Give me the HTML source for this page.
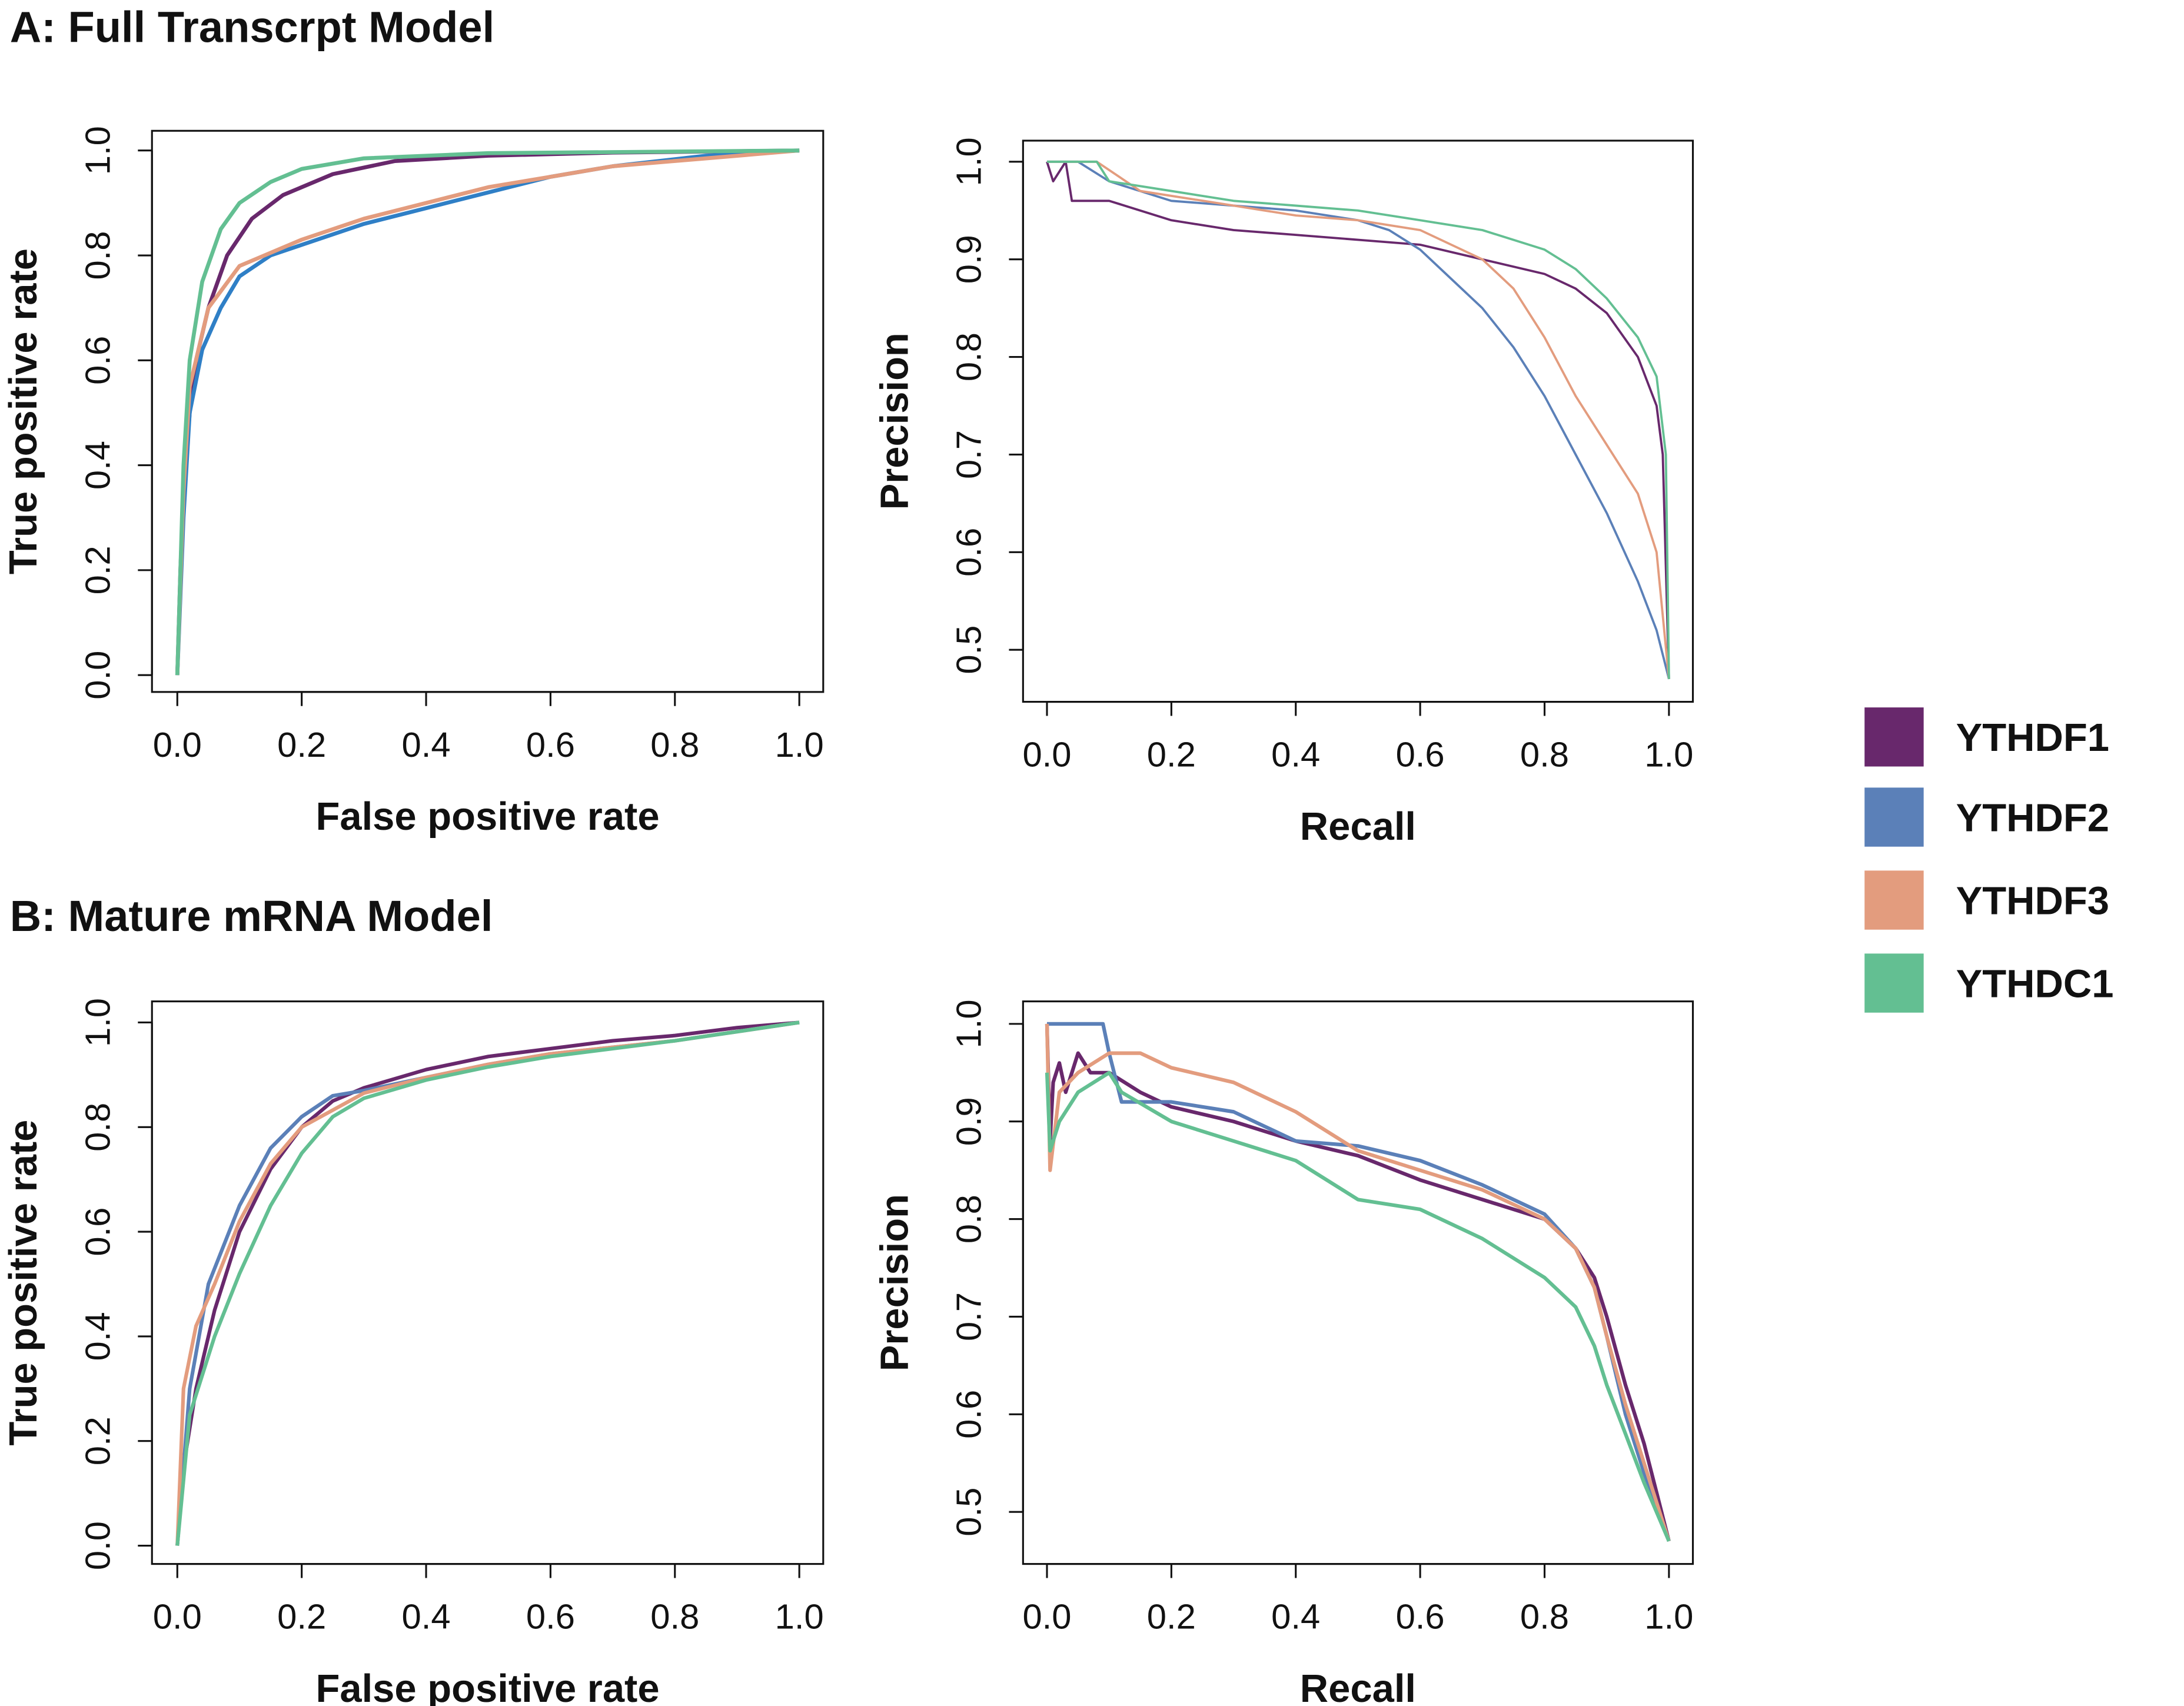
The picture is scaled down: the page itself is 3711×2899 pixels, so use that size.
<!DOCTYPE html>
<html><head><meta charset="utf-8"><style>
html,body{margin:0;padding:0;background:#fff}
svg{display:block}
text{font-family:"Liberation Sans",Arial,sans-serif;fill:#111}
</style></head><body>
<svg id="fig" width="3711" height="2899" viewBox="0 0 1552 1213" preserveAspectRatio="none" xmlns="http://www.w3.org/2000/svg">
<text x="7" y="30" font-size="31" font-weight="bold">A: Full Transcrpt Model</text>
<text x="7" y="662" font-size="31" font-weight="bold">B: Mature mRNA Model</text>
<g>
<rect x="1325" y="503" width="42" height="42" fill="#68286c"/>
<text x="1390" y="534" font-size="28" font-weight="bold">YTHDF1</text>
<rect x="1325" y="560" width="42" height="42" fill="#5b80b8"/>
<text x="1390" y="591" font-size="28" font-weight="bold">YTHDF2</text>
<rect x="1325" y="619" width="42" height="42" fill="#e39c7e"/>
<text x="1390" y="650" font-size="28" font-weight="bold">YTHDF3</text>
<rect x="1325" y="678" width="42" height="42" fill="#63bf92"/>
<text x="1390" y="709" font-size="28" font-weight="bold">YTHDC1</text>
</g>
</svg>
<script>
const seriesNames = ["YTHDF1","YTHDF2","YTHDF3","YTHDC1"];
const colors = ["#68286c","#5b80b8","#e39c7e","#63bf92"];
const colorsRocA = ["#68286c","#2f7fc6","#e39c7e","#63bf92"];
const rocTicks = [0,0.2,0.4,0.6,0.8,1.0];
const rocTickLabels = ["0.0","0.2","0.4","0.6","0.8","1.0"];
const prYTicks = [0.5,0.6,0.7,0.8,0.9,1.0];
const prYTickLabels = ["0.5","0.6","0.7","0.8","0.9","1.0"];

const rocA_DF1 = [[0,0],[0.005,0.2],[0.01,0.35],[0.02,0.5],[0.03,0.6],[0.05,0.7],[0.08,0.8],[0.12,0.87],[0.17,0.915],[0.25,0.955],[0.35,0.98],[0.5,0.99],[0.7,0.996],[1,1]];
const rocA_DF2 = [[0,0],[0.01,0.3],[0.02,0.5],[0.04,0.62],[0.07,0.7],[0.1,0.76],[0.15,0.8],[0.2,0.82],[0.3,0.86],[0.4,0.89],[0.5,0.92],[0.6,0.95],[0.7,0.97],[0.85,0.99],[1,1]];
const rocA_DF3 = [[0,0],[0.01,0.35],[0.02,0.55],[0.05,0.7],[0.1,0.78],[0.2,0.83],[0.3,0.87],[0.4,0.9],[0.5,0.93],[0.6,0.95],[0.7,0.97],[0.85,0.985],[1,1]];
const rocA_DC1 = [[0,0],[0.01,0.4],[0.02,0.6],[0.04,0.75],[0.07,0.85],[0.1,0.9],[0.15,0.94],[0.2,0.965],[0.3,0.985],[0.5,0.995],[1,1]];

const prA_DF1 = [[0,1],[0.01,0.98],[0.03,1],[0.04,0.96],[0.1,0.96],[0.2,0.94],[0.3,0.93],[0.4,0.925],[0.5,0.92],[0.6,0.915],[0.7,0.9],[0.8,0.885],[0.85,0.87],[0.9,0.845],[0.95,0.8],[0.98,0.75],[0.99,0.7],[1,0.47]];
const prA_DF2 = [[0,1],[0.05,1],[0.1,0.98],[0.2,0.96],[0.3,0.955],[0.4,0.95],[0.5,0.94],[0.55,0.93],[0.6,0.91],[0.65,0.88],[0.7,0.85],[0.75,0.81],[0.8,0.76],[0.85,0.7],[0.9,0.64],[0.95,0.57],[0.98,0.52],[1,0.47]];
const prA_DF3 = [[0,1],[0.08,1],[0.15,0.97],[0.3,0.955],[0.4,0.945],[0.5,0.94],[0.6,0.93],[0.7,0.9],[0.75,0.87],[0.8,0.82],[0.85,0.76],[0.9,0.71],[0.95,0.66],[0.98,0.6],[1,0.47]];
const prA_DC1 = [[0,1],[0.08,1],[0.1,0.98],[0.2,0.97],[0.3,0.96],[0.4,0.955],[0.5,0.95],[0.6,0.94],[0.7,0.93],[0.8,0.91],[0.85,0.89],[0.9,0.86],[0.95,0.82],[0.98,0.78],[0.995,0.7],[1,0.47]];

const rocB_DF1 = [[0,0],[0.01,0.15],[0.03,0.3],[0.06,0.45],[0.1,0.6],[0.15,0.72],[0.2,0.8],[0.25,0.85],[0.3,0.875],[0.4,0.91],[0.5,0.935],[0.6,0.95],[0.7,0.965],[0.8,0.975],[0.9,0.99],[1,1]];
const rocB_DF2 = [[0,0],[0.02,0.3],[0.05,0.5],[0.1,0.65],[0.15,0.76],[0.2,0.82],[0.25,0.86],[0.3,0.87],[0.4,0.895],[0.5,0.92],[0.6,0.94],[0.8,0.965],[1,1]];
const rocB_DF3 = [[0,0],[0.01,0.3],[0.03,0.42],[0.06,0.5],[0.1,0.62],[0.15,0.73],[0.2,0.8],[0.3,0.865],[0.4,0.895],[0.5,0.92],[0.6,0.94],[0.8,0.965],[1,1]];
const rocB_DC1 = [[0,0],[0.02,0.25],[0.06,0.4],[0.1,0.52],[0.15,0.65],[0.2,0.75],[0.25,0.82],[0.3,0.855],[0.4,0.89],[0.5,0.915],[0.6,0.935],[0.8,0.965],[1,1]];

const prB_DF1 = [[0,1],[0.005,0.88],[0.01,0.94],[0.02,0.96],[0.03,0.93],[0.05,0.97],[0.07,0.95],[0.1,0.95],[0.15,0.93],[0.2,0.915],[0.3,0.9],[0.4,0.88],[0.5,0.865],[0.6,0.84],[0.7,0.82],[0.8,0.8],[0.85,0.77],[0.88,0.74],[0.9,0.7],[0.93,0.63],[0.96,0.57],[0.98,0.52],[1,0.47]];
const prB_DF2 = [[0,1],[0.04,1],[0.09,1],[0.1,0.97],[0.12,0.92],[0.2,0.92],[0.3,0.91],[0.4,0.88],[0.5,0.875],[0.6,0.86],[0.7,0.835],[0.8,0.805],[0.85,0.77],[0.88,0.73],[0.9,0.68],[0.93,0.6],[0.96,0.54],[1,0.47]];
const prB_DF3 = [[0,1],[0.005,0.85],[0.02,0.93],[0.05,0.95],[0.1,0.97],[0.15,0.97],[0.2,0.955],[0.3,0.94],[0.4,0.91],[0.5,0.87],[0.6,0.85],[0.7,0.83],[0.8,0.8],[0.85,0.77],[0.88,0.73],[0.9,0.68],[0.93,0.61],[0.96,0.55],[1,0.47]];
const prB_DC1 = [[0,0.95],[0.005,0.87],[0.02,0.9],[0.05,0.93],[0.1,0.95],[0.12,0.93],[0.2,0.9],[0.3,0.88],[0.4,0.86],[0.5,0.82],[0.6,0.81],[0.7,0.78],[0.8,0.74],[0.85,0.71],[0.88,0.67],[0.9,0.63],[0.93,0.58],[0.96,0.53],[1,0.47]];

const NS="http://www.w3.org/2000/svg";
const svg=document.getElementById('fig');
function mk(tag,attrs,parent){const e=document.createElementNS(NS,tag);for(const k in attrs)e.setAttribute(k,attrs[k]);(parent||svg).appendChild(e);return e;}

function panel(name,box,xr,yr,yTicks,yLabels,xTitle,yTitle,series,cols,lw){
  const g=mk('g',{});
  
  
  const [L,T,R,B]=box, [px0,px1]=xr, [py0,py1,yv0,yv1]=yr;
  const sx=v=>px0+v*(px1-px0);
  const sy=v=>py0+(v-yv0)/(yv1-yv0)*(py1-py0);
  const frame=mk('rect',{x:L,y:T,width:R-L,height:B-T,fill:'none',stroke:'#111','stroke-width':1.3},g);
  
  
  rocTicks.forEach((t,i)=>{
    const x=sx(t);
    mk('line',{x1:x,y1:B,x2:x,y2:B+10,stroke:'#111','stroke-width':1.3},g);
    const tx=mk('text',{x:x,y:B+46,'font-size':25,'text-anchor':'middle'},g);
    tx.textContent=rocTickLabels[i];
    
    
  });
  mk('line',{x1:sx(0),y1:B,x2:sx(1),y2:B,stroke:'#111','stroke-width':1.3},g);
  yTicks.forEach((t,i)=>{
    const y=sy(t);
    mk('line',{x1:L,y1:y,x2:L-10,y2:y,stroke:'#111','stroke-width':1.3},g);
    const tx=mk('text',{x:L-30,y:y,'font-size':25,'text-anchor':'middle',transform:`rotate(-90 ${L-30} ${y})`},g);
    tx.textContent=yLabels[i];
    
    
  });
  mk('line',{x1:L,y1:sy(yTicks[0]),x2:L,y2:sy(yTicks[yTicks.length-1]),stroke:'#111','stroke-width':1.3},g);
  const xt=mk('text',{x:(L+R)/2,y:B+98,'font-size':28,'font-weight':'bold','text-anchor':'middle'},g);
  xt.textContent=xTitle;
  
  
  const yx=L-82, yy=(T+B)/2;
  const yt=mk('text',{x:yx,y:yy,'font-size':28,'font-weight':'bold','text-anchor':'middle',transform:`rotate(-90 ${yx} ${yy})`},g);
  yt.textContent=yTitle;
  
  
  series.forEach((pts,i)=>{
    const p=mk('polyline',{points:pts.map(d=>sx(d[0]).toFixed(1)+','+sy(d[1]).toFixed(1)).join(' '),fill:'none',stroke:cols[i],'stroke-width':lw,'stroke-linejoin':'round'},g);
    
    
  });
}
panel('roc-a',[108,93,585,492],[126,568],[480,107,0,1],rocTicks,rocTickLabels,'False positive rate','True positive rate',[rocA_DF1,rocA_DF2,rocA_DF3,rocA_DC1],colorsRocA,2.8);
panel('pr-a',[727,100,1203,499],[744,1186],[462,115,0.5,1],prYTicks,prYTickLabels,'Recall','Precision',[prA_DF1,prA_DF2,prA_DF3,prA_DC1],colors,1.6);
panel('roc-b',[108,712,585,1112],[126,568],[1099,727,0,1],rocTicks,rocTickLabels,'False positive rate','True positive rate',[rocB_DF1,rocB_DF2,rocB_DF3,rocB_DC1],colors,2.6);
panel('pr-b',[727,712,1203,1112],[744,1186],[1075,728,0.5,1],prYTicks,prYTickLabels,'Recall','Precision',[prB_DF1,prB_DF2,prB_DF3,prB_DC1],colors,2.6);
</script>
</body></html>
